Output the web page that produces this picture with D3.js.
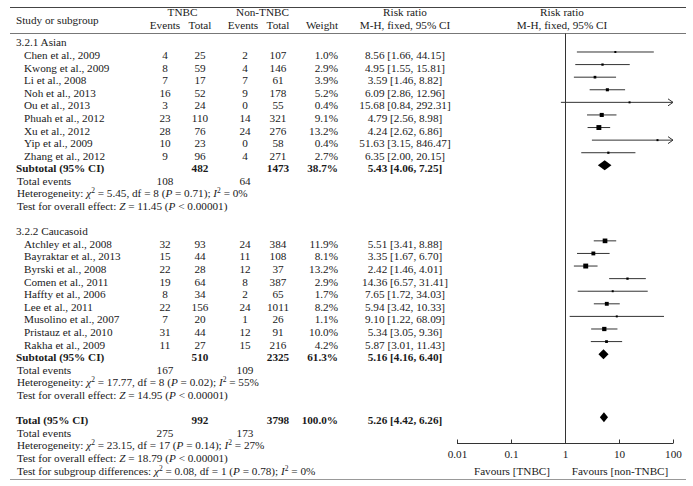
<!DOCTYPE html>
<html><head><meta charset="utf-8">
<script src="https://cdn.jsdelivr.net/npm/d3@7"></script>
<style>
html,body{margin:0;padding:0;background:#fff;}
text{font-family:"Liberation Serif","Times New Roman",serif;font-size:11.2px;fill:#1a1a1a;}
</style></head><body>
<svg id="chart" width="693" height="486"></svg>
<script>
// ---------- data ----------
const groupLabels = ["3.2.1 Asian", "3.2.2 Caucasoid"];
const studyNames = ["Chen et al., 2009","Kwong et al., 2009","Li et al., 2008","Noh et al., 2013","Ou et al., 2013","Phuah et al., 2012","Xu et al., 2012","Yip et al., 2009","Zhang et al., 2012",
  "Atchley et al., 2008","Bayraktar et al., 2013","Byrski et al., 2008","Comen et al., 2011","Haffty et al., 2006","Lee et al., 2011","Musolino et al., 2007","Pristauz et al., 2010","Rakha et al., 2009"];
const studyGroup = [0,0,0,0,0,0,0,0,0, 1,1,1,1,1,1,1,1,1];
const tnbcEvents = [4,8,7,16,3,23,28,10,9, 32,15,22,19,8,22,7,31,11];
const tnbcTotal  = [25,59,17,52,24,110,76,23,96, 93,44,28,64,34,156,20,44,27];
const nonEvents  = [2,4,7,9,0,14,24,0,4, 24,11,12,8,2,24,1,12,15];
const nonTotal   = [107,146,61,178,55,321,276,58,271, 384,108,37,387,65,1011,26,91,216];
const weights    = [1.0,2.9,3.9,5.2,0.4,9.1,13.2,0.4,2.7, 11.9,8.1,13.2,2.9,1.7,8.2,1.1,10.0,4.2];
const riskRatio  = [8.56,4.95,3.59,6.09,15.68,4.79,4.24,51.63,6.35, 5.51,3.35,2.42,14.36,7.65,5.94,9.10,5.34,5.87];
const ciLower    = [1.66,1.55,1.46,2.86,0.84,2.56,2.62,3.15,2.00, 3.41,1.67,1.46,6.57,1.72,3.42,1.22,3.05,3.01];
const ciUpper    = [44.15,15.81,8.82,12.96,292.31,8.98,6.86,846.47,20.15, 8.88,6.70,4.01,31.41,34.03,10.33,68.09,9.36,11.43];

const subTnbcTotal = [482, 510];
const subNonTotal  = [1473, 2325];
const subWeight    = [38.7, 61.3];
const subRR        = [5.43, 5.16];
const subLower     = [4.06, 4.16];
const subUpper     = [7.25, 6.40];
const subTnbcEvents = [108, 167];
const subNonEvents  = [64, 109];
const subChi2 = ["5.45", "17.77"];
const subDf   = [8, 8];
const subHetP = ["0.71", "0.02"];
const subI2   = [0, 55];
const subZ    = ["11.45", "14.95"];

const totalTnbcTotal = 992, totalNonTotal = 3798, totalWeight = 100.0;
const totalRR = 5.26, totalLower = 4.42, totalUpper = 6.26;
const totalTnbcEvents = 275, totalNonEvents = 173;
const totalChi2 = "23.15", totalDf = 17, totalHetP = "0.14", totalI2 = 27, totalZ = "18.79";
const diffChi2 = "0.08", diffDf = 1, diffP = "0.78", diffI2 = 0;

const axisTicks = [0.01, 0.1, 1, 10, 100];
const axisTickLabels = ["0.01", "0.1", "1", "10", "100"];
const favoursLabels = ["Favours [TNBC]", "Favours [non-TNBC]"];

// ---------- layout ----------
const svg = d3.select("#chart");
const fx = d3.scaleLog().domain([0.01, 100]).range([457, 673]);
const ry = d3.scaleLinear().domain([0, 34]).range([39.4, 467.5]);
const TXT = 7; // baseline offset from mark center
const colName = 16, colIndent = 24, colTE = 165, colTT = 200, colNE = 245, colNT = 278, colW = 338, colRR = 405;
const f2 = d3.format(".2f"), f1 = d3.format(".1f");
const axisY = 443;

// table rules
svg.append("line").attr("x1",10).attr("x2",686).attr("y1",7.5).attr("y2",7.5).attr("stroke","#444");
svg.append("line").attr("x1",10).attr("x2",686).attr("y1",33.5).attr("y2",33.5).attr("stroke","#777");
svg.append("line").attr("x1",10).attr("x2",686).attr("y1",479.5).attr("y2",479.5).attr("stroke","#999");

function txt(x, y, s, anchor, bold) {
  return svg.append("text").attr("x", x).attr("y", y).attr("text-anchor", anchor || "start")
    .style("font-weight", bold ? "bold" : null).text(s);
}
// headers
txt(colName, 23.5, "Study or subgroup");
txt((colTE+colTT)/2, 16, "TNBC", "middle");
txt(colTE, 29, "Events", "middle"); txt(colTT, 29, "Total", "middle");
txt((colNE+colNT)/2+1, 16, "Non-TNBC", "middle");
txt(colNE-2, 29, "Events", "middle"); txt(colNT, 29, "Total", "middle");
txt(colW, 29, "Weight", "end");
txt(colRR, 16, "Risk ratio", "middle"); txt(colRR, 29, "M-H, fixed, 95% CI", "middle");
txt(562, 16, "Risk ratio", "middle"); txt(562, 29, "M-H, fixed, 95% CI", "middle");

// vertical line of no effect
svg.append("line").attr("x1", fx(1)+0.5).attr("x2", fx(1)+0.5).attr("y1", 33.5).attr("y2", axisY).attr("stroke","#333");

function richLine(y, parts) {
  const t = svg.append("text").attr("x", colName + 1).attr("y", y);
  parts.forEach(p => {
    const s = t.append("tspan").text(p.t);
    if (p.i) s.style("font-style", "italic");
    if (p.sup) s.attr("dy", -4).style("font-size", "7.5px");
    if (p.after) s.attr("dy", 4);
  });
}
function hetLine(y, chi2, df, p, i2) {
  richLine(y, [{t:"Heterogeneity: "},{t:"χ",i:1},{t:"2",sup:1},{t:" = " + chi2 + ", df = " + df + " (",after:1},
    {t:"P",i:1},{t:" = " + p + "); "},{t:"I",i:1},{t:"2",sup:1},{t:" = " + i2 + "%",after:1}]);
}
function zLine(y, z) {
  richLine(y, [{t:"Test for overall effect: "},{t:"Z",i:1},{t:" = " + z + " ("},{t:"P",i:1},{t:" < 0.00001)"}]);
}
function diamond(y, rr, lo, hi) {
  svg.append("path").attr("d", `M${fx(lo)},${y}L${fx(rr)},${y-5}L${fx(hi)},${y}L${fx(rr)},${y+5}Z`).attr("fill","#000");
}

let row = 0;
groupLabels.forEach((g, gi) => {
  txt(colName, ry(row) + TXT, g);
  row++;
  studyNames.forEach((name, i) => {
    if (studyGroup[i] !== gi) return;
    const y = ry(row);
    txt(colIndent, y + TXT, name);
    txt(colTE, y + TXT, tnbcEvents[i], "middle");
    txt(colTT, y + TXT, tnbcTotal[i], "middle");
    txt(colNE, y + TXT, nonEvents[i], "middle");
    txt(colNT, y + TXT, nonTotal[i], "middle");
    txt(colW, y + TXT, f1(weights[i]) + "%", "end");
    txt(colRR, y + TXT, `${f2(riskRatio[i])} [${f2(ciLower[i])}, ${f2(ciUpper[i])}]`, "middle");
    const x0 = fx(Math.max(ciLower[i], 0.01)), x1 = fx(Math.min(ciUpper[i], 100));
    svg.append("line").attr("x1", x0).attr("x2", x1).attr("y1", y).attr("y2", y).attr("stroke", "#333").attr("stroke-width", 1);
    if (ciUpper[i] > 100) {
      svg.append("path").attr("d", `M${x1-5},${y-3.5}L${x1},${y}L${x1-5},${y+3.5}`).attr("fill","none").attr("stroke","#333");
    }
    const s = Math.max(2, Math.sqrt(weights[i]) * 1.35);
    svg.append("rect").attr("x", fx(riskRatio[i]) - s/2).attr("y", y - s/2).attr("width", s).attr("height", s).attr("fill", "#000");
    row++;
  });
  const y = ry(row);
  txt(colName, y + TXT, "Subtotal (95% CI)", "start", true);
  txt(colTT, y + TXT, subTnbcTotal[gi], "middle", true);
  txt(colNT, y + TXT, subNonTotal[gi], "middle", true);
  txt(colW, y + TXT, f1(subWeight[gi]) + "%", "end", true);
  txt(colRR, y + TXT, `${f2(subRR[gi])} [${f2(subLower[gi])}, ${f2(subUpper[gi])}]`, "middle", true);
  diamond(y, subRR[gi], subLower[gi], subUpper[gi]);
  row++;
  txt(colName + 1, ry(row) + TXT, "Total events");
  txt(colTE, ry(row) + TXT, subTnbcEvents[gi], "middle");
  txt(colNE, ry(row) + TXT, subNonEvents[gi], "middle");
  row++;
  hetLine(ry(row) + TXT, subChi2[gi], subDf[gi], subHetP[gi], subI2[gi]);
  row++;
  zLine(ry(row) + TXT, subZ[gi]);
  row += 2;
});

// overall
{
  const y = ry(row);
  txt(colName, y + TXT, "Total (95% CI)", "start", true);
  txt(colTT, y + TXT, totalTnbcTotal, "middle", true);
  txt(colNT, y + TXT, totalNonTotal, "middle", true);
  txt(colW, y + TXT, f1(totalWeight) + "%", "end", true);
  txt(colRR, y + TXT, `${f2(totalRR)} [${f2(totalLower)}, ${f2(totalUpper)}]`, "middle", true);
  diamond(y, totalRR, totalLower, totalUpper);
  row++;
  txt(colName + 1, ry(row) + TXT, "Total events");
  txt(colTE, ry(row) + TXT, totalTnbcEvents, "middle");
  txt(colNE, ry(row) + TXT, totalNonEvents, "middle");
  row++;
  hetLine(ry(row) + TXT, totalChi2, totalDf, totalHetP, totalI2);
  row++;
  zLine(ry(row) + TXT, totalZ);
  row++;
  richLine(ry(row) + TXT, [{t:"Test for subgroup differences: "},{t:"χ",i:1},{t:"2",sup:1},{t:" = " + diffChi2 + ", df = " + diffDf + " (",after:1},
    {t:"P",i:1},{t:" = " + diffP + "); "},{t:"I",i:1},{t:"2",sup:1},{t:" = " + diffI2 + "%",after:1}]);
}

// axis
const axis = d3.axisBottom(fx).tickValues(axisTicks).tickSize(-4).tickPadding(7)
  .tickFormat((d, i) => axisTickLabels[i]);
const ag = svg.append("g").attr("transform", `translate(0,${axisY + 0.5})`).call(axis);
ag.select(".domain").attr("stroke", "#333").attr("d", `M${fx(0.01)},0H${fx(100)}`);
ag.selectAll(".tick line").attr("stroke", "#333");
ag.selectAll(".tick text").style("font-family", "'Liberation Serif','Times New Roman',serif").style("font-size", "11.2px").attr("fill", "#1a1a1a");
txt((fx(0.01) + fx(1)) / 2 + 1, 474.5, favoursLabels[0], "middle");
txt((fx(1) + fx(100)) / 2 + 1, 474.5, favoursLabels[1], "middle");
</script>
</body></html>
